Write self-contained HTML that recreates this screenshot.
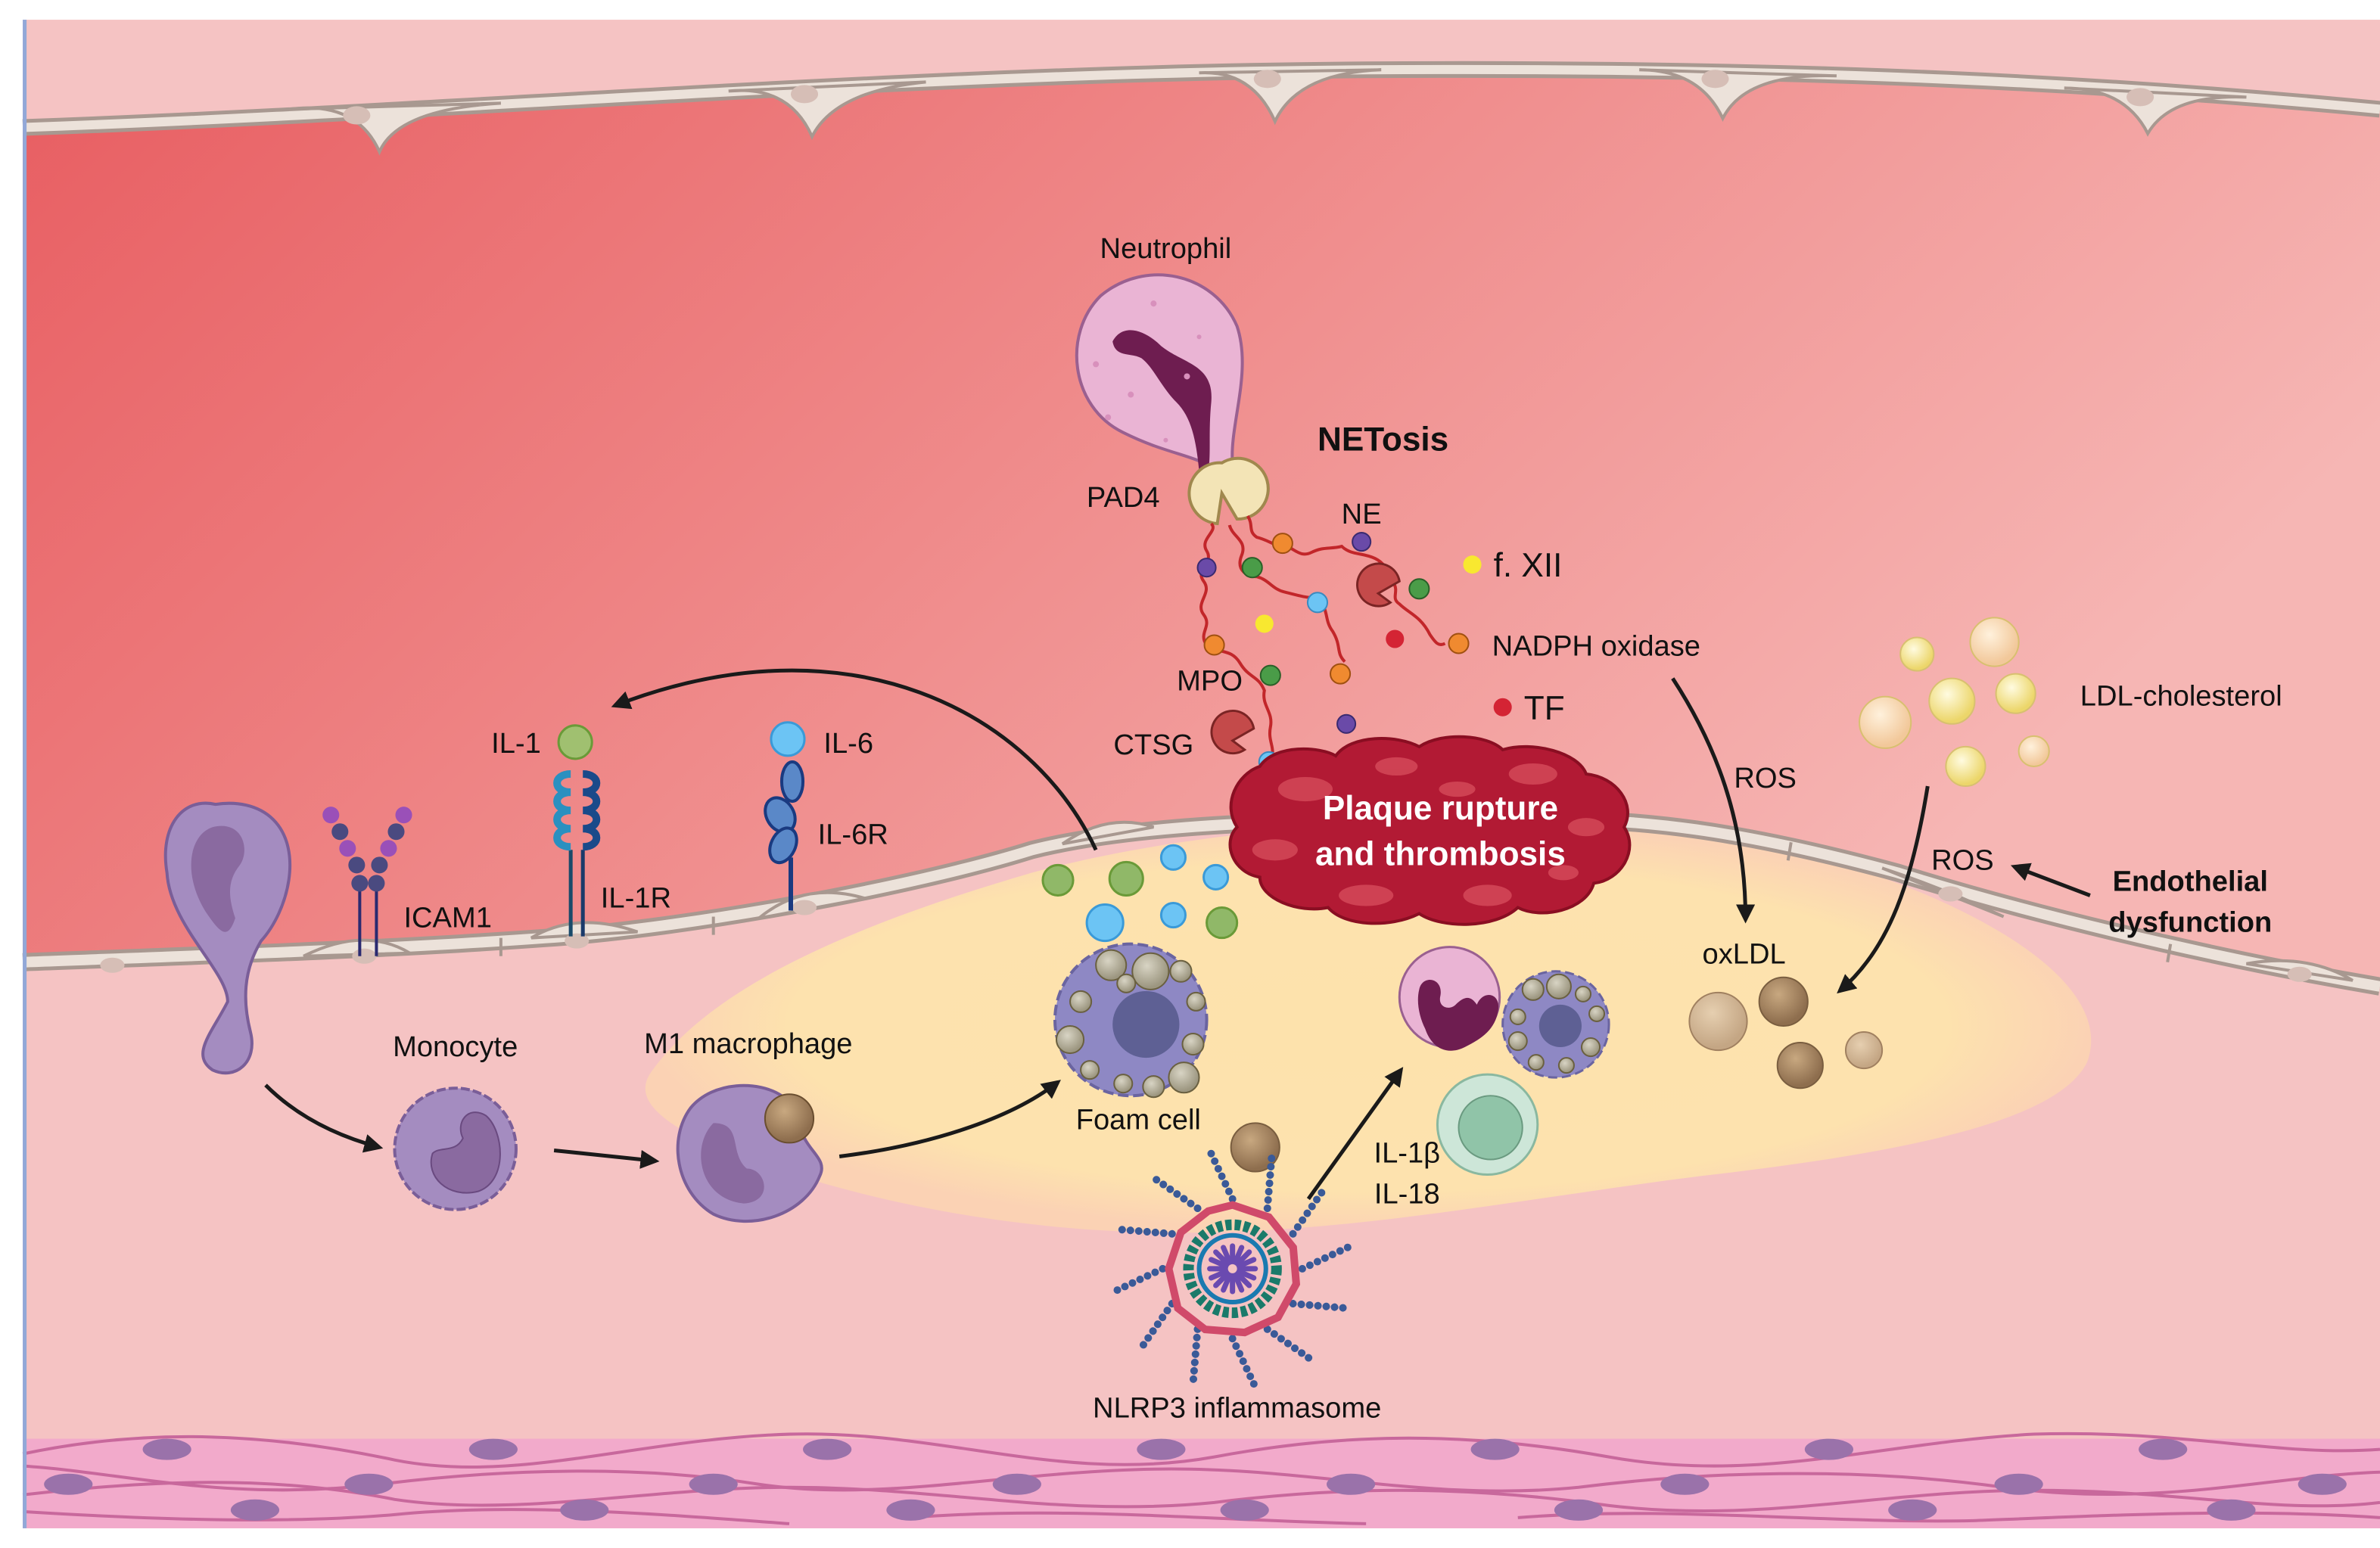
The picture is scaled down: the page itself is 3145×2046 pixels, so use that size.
<!DOCTYPE html>
<html><head><meta charset="utf-8"><style>
html,body{margin:0;padding:0;background:#fff}
svg{display:block}
text{font-family:"Liberation Sans",sans-serif;fill:#111}
</style></head><body>
<svg width="3145" height="2046" viewBox="0 0 1568 1020" preserveAspectRatio="none" xmlns="http://www.w3.org/2000/svg">
<defs>
<linearGradient id="lum" x1="0" y1="0" x2="1" y2="0.4">
<stop offset="0" stop-color="#e85e62"/><stop offset="0.5" stop-color="#ef8a8a"/><stop offset="1" stop-color="#f6b6b4"/>
</linearGradient>
<radialGradient id="plq" cx="0.5" cy="0.5" r="0.5">
<stop offset="0" stop-color="#fde2ac"/><stop offset="0.8" stop-color="#fde2ae"/><stop offset="1" stop-color="#fbd2b4"/>
</radialGradient>
<radialGradient id="ves" cx="0.4" cy="0.35" r="0.6"><stop offset="0" stop-color="#d8d4c4"/><stop offset="1" stop-color="#9c9680"/></radialGradient>
<radialGradient id="br" cx="0.4" cy="0.35" r="0.6"><stop offset="0" stop-color="#c8a880"/><stop offset="1" stop-color="#8e6e4e"/></radialGradient>
<radialGradient id="lbr" cx="0.4" cy="0.35" r="0.6"><stop offset="0" stop-color="#e6cfb0"/><stop offset="1" stop-color="#c4a684"/></radialGradient>
<radialGradient id="yl" cx="0.4" cy="0.35" r="0.6"><stop offset="0" stop-color="#fffbe0"/><stop offset="1" stop-color="#ecd66a"/></radialGradient>
<radialGradient id="pyl" cx="0.4" cy="0.35" r="0.6"><stop offset="0" stop-color="#fff1dc"/><stop offset="1" stop-color="#f2c89a"/></radialGradient>
<marker id="ah" viewBox="0 0 10 10" refX="8" refY="5" markerWidth="5" markerHeight="5" orient="auto"><path d="M0,0 L10,5 L0,10 Z" fill="#1a1a1a"/></marker>
</defs>

<rect x="15" y="13" width="1553" height="994" fill="#f5c3c3"/>
<path d="M15,84 C300,74 600,48 900,46 C1200,44 1400,56 1568,72 L1568,650 C1450,630 1330,600 1250,575 C1150,548 1080,538 1000,540 C880,540 760,540 680,560 C600,585 450,612 360,618 C250,626 120,630 15,634 Z" fill="url(#lum)"/>
<path d="M15,84 C300,74 600,48 900,46 C1200,44 1400,56 1568,72" fill="none" stroke="#a89890" stroke-width="11"/>
<path d="M15,84 C300,74 600,48 900,46 C1200,44 1400,56 1568,72" fill="none" stroke="#ece2da" stroke-width="6"/>
<g fill="#ece2da" stroke="#a89890" stroke-width="2">
<path d="M190,72 Q235,66 250,100 Q262,72 330,68 Z"/><path d="M480,60 Q520,56 535,90 Q550,60 610,54 Z"/><path d="M790,48 Q825,46 840,80 Q855,48 910,46 Z"/>
<path d="M1080,46 Q1120,46 1135,78 Q1150,48 1210,50 Z"/><path d="M1360,58 Q1400,58 1415,88 Q1430,62 1480,64 Z"/>
</g>
<g fill="#d6beb6"><ellipse cx="235" cy="76" rx="9" ry="6"/><ellipse cx="530" cy="62" rx="9" ry="6"/><ellipse cx="835" cy="52" rx="9" ry="6"/><ellipse cx="1130" cy="52" rx="9" ry="6"/><ellipse cx="1410" cy="64" rx="9" ry="6"/></g>

<path d="M430,705 C470,650 560,610 680,575 C780,548 900,540 1000,540 C1100,540 1200,560 1270,590 C1340,620 1390,660 1375,700 C1355,740 1250,760 1120,775 C1000,790 880,815 760,812 C640,810 520,780 450,745 C425,730 420,718 430,705 Z" fill="url(#plq)"/>

<path d="M15,634 C120,630 250,626 360,618 C450,612 600,585 680,560 C760,540 880,540 1000,540 C1080,538 1150,548 1250,575 C1330,600 1450,630 1568,650" fill="none" stroke="#a89890" stroke-width="12"/>
<path d="M15,634 C120,630 250,626 360,618 C450,612 600,585 680,560 C760,540 880,540 1000,540 C1080,538 1150,548 1250,575 C1330,600 1450,630 1568,650" fill="none" stroke="#ece2da" stroke-width="7"/>
<g fill="#ece2da" stroke="#a89890" stroke-width="2">
<path d="M200,630 Q240,610 270,628 Z"/><path d="M350,618 Q380,600 420,614 Z"/><path d="M500,605 Q530,580 570,592 Z"/><path d="M700,556 Q730,535 760,545 Z"/>
<path d="M1240,572 Q1280,585 1320,604 Z"/><path d="M1480,635 Q1520,628 1550,646 Z"/>
</g>
<g fill="#d6beb6"><ellipse cx="74" cy="636" rx="8" ry="5"/><ellipse cx="240" cy="630" rx="8" ry="5"/><ellipse cx="380" cy="620" rx="8" ry="5"/><ellipse cx="530" cy="598" rx="8" ry="5"/><ellipse cx="1285" cy="589" rx="8" ry="5"/><ellipse cx="1515" cy="642" rx="8" ry="5"/></g>
<g stroke="#a89890" stroke-width="2"><line x1="160" y1="628" x2="160" y2="640"/><line x1="330" y1="618" x2="330" y2="630"/><line x1="470" y1="604" x2="470" y2="616"/><line x1="1180" y1="555" x2="1178" y2="567"/><line x1="1430" y1="622" x2="1428" y2="634"/></g>

<rect x="15" y="948" width="1553" height="59" fill="#f2aacb"/>
<g fill="none" stroke="#c8689c" stroke-width="2">
<path d="M15,958 C100,940 180,945 260,962 C340,978 420,948 520,945 C620,942 700,978 800,960 C880,945 960,942 1060,960 C1160,978 1240,950 1340,945 C1440,942 1500,960 1568,955"/>
<path d="M15,966 C80,970 150,990 250,978 C330,968 420,965 500,978 C580,990 660,970 760,968 C860,966 940,990 1040,980 C1120,970 1220,966 1320,980 C1420,994 1500,972 1568,970"/>
<path d="M15,985 C100,975 180,972 260,988 C340,1000 430,980 520,980 C620,980 700,1000 800,990 C880,980 960,978 1060,992 C1160,1004 1240,982 1340,982 C1440,982 1500,998 1568,990"/>
<path d="M15,996 C80,1000 180,1005 260,998 C340,990 440,998 520,1004 M600,1000 C700,992 800,1002 900,1004 M1000,1000 C1100,992 1200,1004 1300,1002 C1400,998 1480,994 1568,1000"/>
</g>
<g fill="#9a72aa">
<ellipse cx="110" cy="955" rx="16" ry="7"/><ellipse cx="325" cy="955" rx="16" ry="7"/><ellipse cx="545" cy="955" rx="16" ry="7"/><ellipse cx="765" cy="955" rx="16" ry="7"/><ellipse cx="985" cy="955" rx="16" ry="7"/><ellipse cx="1205" cy="955" rx="16" ry="7"/><ellipse cx="1425" cy="955" rx="16" ry="7"/>
<ellipse cx="45" cy="978" rx="16" ry="7"/><ellipse cx="243" cy="978" rx="16" ry="7"/><ellipse cx="470" cy="978" rx="16" ry="7"/><ellipse cx="670" cy="978" rx="16" ry="7"/><ellipse cx="890" cy="978" rx="16" ry="7"/><ellipse cx="1110" cy="978" rx="16" ry="7"/><ellipse cx="1330" cy="978" rx="16" ry="7"/><ellipse cx="1530" cy="978" rx="16" ry="7"/>
<ellipse cx="168" cy="995" rx="16" ry="7"/><ellipse cx="385" cy="995" rx="16" ry="7"/><ellipse cx="600" cy="995" rx="16" ry="7"/><ellipse cx="820" cy="995" rx="16" ry="7"/><ellipse cx="1040" cy="995" rx="16" ry="7"/><ellipse cx="1260" cy="995" rx="16" ry="7"/><ellipse cx="1470" cy="995" rx="16" ry="7"/>
</g>
<rect x="15" y="13" width="2.5" height="994" fill="#92a8d8"/>

<path d="M800,310 C790,300 770,300 740,285 C705,268 700,220 725,195 C755,170 800,180 815,215 C825,245 810,280 812,305 Z" fill="#eab4d4" stroke="#9a6090" stroke-width="2"/>
<path d="M733,225 C740,212 755,218 765,228 C780,240 800,240 798,265 C796,285 798,300 796,310 L790,310 C788,290 785,275 775,265 C765,255 760,242 752,236 C745,232 735,236 733,225 Z" fill="#6e1d50"/>
<g fill="#d890bc"><circle cx="760" cy="200" r="2"/><circle cx="790" cy="222" r="1.5"/><circle cx="722" cy="240" r="2"/><circle cx="745" cy="260" r="2"/><circle cx="730" cy="275" r="2"/><circle cx="782" cy="248" r="2"/><circle cx="768" cy="290" r="1.5"/></g>
<path d="M805,325 m0,-20 a20,20 0 1 1 10,37 L805,325 L802,345 a20,20 0 0 1 3,-40 Z" fill="#f3e4b6" stroke="#a0884e" stroke-width="2"/>
<g fill="none" stroke="#c2262a" stroke-width="2">
<path d="M798,345 c5,5 -8,10 -3,18 c5,8 -8,12 -2,20 c6,8 -6,14 0,22 c6,8 -4,12 2,20 c8,6 16,2 22,12 c6,10 12,8 16,18 c-2,10 6,14 4,24 c-2,10 4,14 0,22"/>
<path d="M810,346 c2,8 12,10 8,20 c-4,10 4,14 10,14 c8,2 10,8 18,10 c8,2 14,4 22,4 c8,8 4,14 10,22 c6,10 2,14 8,20"/>
<path d="M822,340 c4,6 0,10 6,14 c8,2 12,6 18,6 c6,0 10,8 18,4 c8,-4 12,-2 20,-4 c6,6 14,4 22,8 c8,4 8,10 12,16 c4,6 -2,10 4,14 c6,6 14,8 20,20 c4,6 6,8 10,6"/>
</g>
<g stroke-width="1">
<circle cx="795" cy="374" r="6" fill="#6a4aa8" stroke="#3a2a70"/><circle cx="825" cy="374" r="6.5" fill="#4a9c48" stroke="#2a6028"/><circle cx="845" cy="358" r="6.5" fill="#f08a30" stroke="#a05010"/><circle cx="897" cy="357" r="6" fill="#6a4aa8" stroke="#3a2a70"/>
<circle cx="935" cy="388" r="6.5" fill="#4a9c48" stroke="#2a6028"/><circle cx="868" cy="397" r="6.5" fill="#6cc4f4" stroke="#3a8ac0"/><circle cx="833" cy="411" r="6" fill="#f8e830"/><circle cx="919" cy="421" r="6" fill="#d42434"/>
<circle cx="961" cy="424" r="6.5" fill="#f08a30" stroke="#a05010"/><circle cx="800" cy="425" r="6.5" fill="#f08a30" stroke="#a05010"/><circle cx="837" cy="445" r="6.5" fill="#4a9c48" stroke="#2a6028"/><circle cx="883" cy="444" r="6.5" fill="#f08a30" stroke="#a05010"/>
<circle cx="887" cy="477" r="6" fill="#6a4aa8" stroke="#3a2a70"/><circle cx="836" cy="502" r="6.5" fill="#6cc4f4" stroke="#3a8ac0"/><circle cx="970" cy="372" r="6" fill="#f8e830"/><circle cx="990" cy="466" r="6" fill="#d42434"/>
</g>
<path d="M908,377 m14,6 a14,14 0 1 0 -6,14 L908,391 Z" fill="#c44a4a" stroke="#7a2424" stroke-width="1.5"/>
<path d="M812,474 m14,6 a14,14 0 1 0 -6,14 L812,488 Z" fill="#c44a4a" stroke="#7a2424" stroke-width="1.5"/>

<path d="M830,505 C840,490 870,492 880,498 C890,484 920,484 935,492 C950,482 980,484 990,494 C1010,488 1040,496 1045,510 C1065,512 1078,530 1070,545 C1080,560 1068,580 1050,582 C1045,600 1015,606 1000,598 C985,612 950,612 935,602 C915,612 885,610 875,598 C855,602 830,592 830,578 C812,575 805,555 815,545 C805,530 815,510 830,505 Z" fill="#b21a34" stroke="#8a0e22" stroke-width="2"/>
<g fill="#d24656" opacity="0.9">
<ellipse cx="860" cy="520" rx="18" ry="8"/><ellipse cx="920" cy="505" rx="14" ry="6"/><ellipse cx="1010" cy="510" rx="16" ry="7"/><ellipse cx="1045" cy="545" rx="12" ry="6"/><ellipse cx="840" cy="560" rx="15" ry="7"/><ellipse cx="900" cy="590" rx="18" ry="7"/><ellipse cx="980" cy="590" rx="16" ry="7"/><ellipse cx="960" cy="520" rx="12" ry="5"/><ellipse cx="1030" cy="575" rx="10" ry="5"/>
</g>
<text x="949" y="540" text-anchor="middle" font-size="22" font-weight="bold" style="fill:#fff">Plaque rupture</text>
<text x="949" y="570" text-anchor="middle" font-size="22" font-weight="bold" style="fill:#fff">and thrombosis</text>

<g stroke-width="2">
<line x1="237" y1="582" x2="237" y2="630" stroke="#2a2a70"/><line x1="248" y1="582" x2="248" y2="630" stroke="#2a2a70"/>
<circle cx="237" cy="582" r="5.5" fill="#4a4a80"/><circle cx="248" cy="582" r="5.5" fill="#4a4a80"/><circle cx="235" cy="570" r="5.5" fill="#4a4a80"/><circle cx="250" cy="570" r="5.5" fill="#4a4a80"/>
<circle cx="229" cy="559" r="5.5" fill="#9a50b8" stroke="none"/><circle cx="256" cy="559" r="5.5" fill="#9a50b8" stroke="none"/><circle cx="224" cy="548" r="5.5" fill="#4a4a80"/><circle cx="261" cy="548" r="5.5" fill="#4a4a80"/>
<circle cx="218" cy="537" r="5.5" fill="#9a50b8" stroke="none"/><circle cx="266" cy="537" r="5.5" fill="#9a50b8" stroke="none"/>
<line x1="376" y1="560" x2="376" y2="617" stroke="#1a4a6a" stroke-width="2.5"/><line x1="384" y1="560" x2="384" y2="617" stroke="#1a3a6a" stroke-width="2.5"/>
</g>
<g fill="none" stroke-width="5">
<path d="M376,510 c-12,0 -12,12 0,12 c-12,0 -12,12 0,12 c-12,0 -12,12 0,12 c-12,0 -12,12 0,12" stroke="#2a90c0"/>
<path d="M384,510 c12,0 12,12 0,12 c12,0 12,12 0,12 c12,0 12,12 0,12 c12,0 12,12 0,12" stroke="#1a4a8a"/>
</g>
<circle cx="379" cy="489" r="11" fill="#a0c070" stroke="#6a9a38" stroke-width="1.5"/>
<circle cx="519" cy="487" r="11" fill="#6cc4f4" stroke="#3a9ad8" stroke-width="1.5"/>
<line x1="521" y1="565" x2="521" y2="600" stroke="#1a3a80" stroke-width="3"/>
<g fill="#5a88c8" stroke="#1a3a80" stroke-width="2"><ellipse cx="522" cy="515" rx="7" ry="13"/><ellipse cx="514" cy="537" rx="9" ry="12" transform="rotate(-30 514 537)"/><ellipse cx="516" cy="557" rx="8" ry="12" transform="rotate(25 516 557)"/></g>

<path d="M142,530 C120,525 105,545 110,575 C112,610 150,640 150,660 C140,680 125,695 140,705 C155,712 170,700 165,680 C160,660 160,640 172,620 C190,600 200,560 180,540 C170,530 155,528 142,530 Z" fill="#a48cc0" stroke="#7a5e98" stroke-width="2"/>
<path d="M140,545 C125,550 120,575 135,600 C145,615 150,620 155,605 C150,590 150,580 158,570 C165,560 160,540 140,545 Z" fill="#8a6aa0"/>
<circle cx="300" cy="757" r="40" fill="#a48cc0" stroke="#7a5e98" stroke-width="2" stroke-dasharray="6 2"/>
<path d="M285,760 C280,775 295,790 315,785 C335,778 332,745 320,735 C308,728 300,740 305,750 C300,760 290,755 285,760 Z" fill="#8a6aa0" stroke="#6a4a80" stroke-width="1"/>
<path d="M515,722 C500,712 470,712 455,730 C440,750 445,785 470,800 C495,812 530,800 540,775 C545,765 535,760 530,750 C515,752 505,740 510,728 Z" fill="#a48cc0" stroke="#7a5e98" stroke-width="2"/>
<path d="M470,740 C455,755 460,790 490,793 C510,792 505,770 492,770 C480,760 490,740 470,740 Z" fill="#8a6aa0"/>
<circle cx="520" cy="737" r="16" fill="url(#br)" stroke="#6a4e30" stroke-width="1"/>
<circle cx="745" cy="672" r="50" fill="#8e88c4" stroke="#6a64a0" stroke-width="2" stroke-dasharray="7 3"/>
<circle cx="755" cy="675" r="22" fill="#5e6094"/>
<g fill="url(#ves)" stroke="#6a6040" stroke-width="1">
<circle cx="732" cy="636" r="10"/><circle cx="758" cy="640" r="12"/><circle cx="778" cy="640" r="7"/><circle cx="788" cy="660" r="6"/><circle cx="712" cy="660" r="7"/><circle cx="705" cy="685" r="9"/><circle cx="786" cy="688" r="7"/><circle cx="780" cy="710" r="10"/><circle cx="760" cy="716" r="7"/><circle cx="740" cy="714" r="6"/><circle cx="718" cy="705" r="6"/><circle cx="742" cy="648" r="6"/>
</g>
<g stroke-width="1.5">
<circle cx="697" cy="580" r="10" fill="#90b868" stroke="#6a9a38"/><circle cx="742" cy="579" r="11" fill="#90b868" stroke="#6a9a38"/><circle cx="773" cy="565" r="8" fill="#6cc4f4" stroke="#3a9ad8"/><circle cx="801" cy="578" r="8" fill="#6cc4f4" stroke="#3a9ad8"/>
<circle cx="728" cy="608" r="12" fill="#6cc4f4" stroke="#3a9ad8"/><circle cx="773" cy="603" r="8" fill="#6cc4f4" stroke="#3a9ad8"/><circle cx="805" cy="608" r="10" fill="#90b868" stroke="#6a9a38"/>
</g>
<circle cx="955" cy="657" r="33" fill="#eab4d4" stroke="#9a6090" stroke-width="1.5"/>
<path d="M935,652 c2,-10 16,-8 14,4 c-2,8 6,10 10,6 c6,-6 10,-6 14,0 c4,-10 16,-8 14,4 c-2,12 -10,18 -22,24 c-12,6 -22,0 -26,-12 c-4,-8 -6,-18 -4,-26 Z" fill="#6e1d50"/>
<circle cx="1025" cy="675" r="35" fill="#8e88c4" stroke="#6a64a0" stroke-width="1.5" stroke-dasharray="6 3"/>
<circle cx="1028" cy="676" r="14" fill="#5e6094"/>
<g fill="url(#ves)" stroke="#6a6040" stroke-width="1"><circle cx="1010" cy="652" r="7"/><circle cx="1027" cy="650" r="8"/><circle cx="1043" cy="655" r="5"/><circle cx="1052" cy="668" r="5"/><circle cx="1000" cy="670" r="5"/><circle cx="1000" cy="686" r="6"/><circle cx="1048" cy="690" r="6"/><circle cx="1012" cy="700" r="5"/><circle cx="1032" cy="702" r="5"/></g>
<circle cx="980" cy="741" r="33" fill="#cde6d8" stroke="#8ab8a0" stroke-width="1.5"/>
<circle cx="982" cy="743" r="21" fill="#90c4a8" stroke="#6a9a80" stroke-width="1"/>
<circle cx="827" cy="756" r="16" fill="url(#br)" stroke="#7a5e40" stroke-width="1"/>
<circle cx="1132" cy="673" r="19" fill="url(#lbr)" stroke="#a08060" stroke-width="1"/>
<circle cx="1175" cy="660" r="16" fill="url(#br)" stroke="#7a5e40" stroke-width="1"/>
<circle cx="1186" cy="702" r="15" fill="url(#br)" stroke="#7a5e40" stroke-width="1"/>
<circle cx="1228" cy="692" r="12" fill="url(#lbr)" stroke="#a08060" stroke-width="1"/>
<g stroke="#d8c070" stroke-width="1">
<circle cx="1263" cy="431" r="11" fill="url(#yl)"/><circle cx="1314" cy="423" r="16" fill="url(#pyl)"/><circle cx="1286" cy="462" r="15" fill="url(#yl)"/><circle cx="1328" cy="457" r="13" fill="url(#yl)"/><circle cx="1242" cy="476" r="17" fill="url(#pyl)"/><circle cx="1295" cy="505" r="13" fill="url(#yl)"/><circle cx="1340" cy="495" r="10" fill="url(#pyl)"/>
</g>

<g transform="translate(812,836)">
<g stroke="#3a5a98" stroke-width="5" stroke-linecap="round" stroke-dasharray="0 5.5" fill="none">
<line x1="0" y1="-46" x2="-16" y2="-80" transform="rotate(0)"/><line x1="0" y1="-46" x2="-16" y2="-80" transform="rotate(30)"/><line x1="0" y1="-46" x2="-16" y2="-80" transform="rotate(60)"/><line x1="0" y1="-46" x2="-16" y2="-80" transform="rotate(90)"/><line x1="0" y1="-46" x2="-16" y2="-80" transform="rotate(120)"/><line x1="0" y1="-46" x2="-16" y2="-80" transform="rotate(150)"/><line x1="0" y1="-46" x2="-16" y2="-80" transform="rotate(180)"/><line x1="0" y1="-46" x2="-16" y2="-80" transform="rotate(210)"/><line x1="0" y1="-46" x2="-16" y2="-80" transform="rotate(240)"/><line x1="0" y1="-46" x2="-16" y2="-80" transform="rotate(270)"/><line x1="0" y1="-46" x2="-16" y2="-80" transform="rotate(300)"/><line x1="0" y1="-46" x2="-16" y2="-80" transform="rotate(330)"/>
</g>
<polygon points="0,-42 24,-34 40,-14 42,10 30,32 8,42 -18,40 -36,26 -42,0 -34,-24 -16,-38" fill="none" stroke="#d04a6a" stroke-width="5"/>
<circle r="29" fill="none" stroke="#1a7a6a" stroke-width="7" stroke-dasharray="4 2"/>
<circle r="22" fill="#f5c3c3" stroke="#1a7ab0" stroke-width="3"/>
<g stroke="#6a4ab0" stroke-width="3.5" stroke-linecap="round"><line x1="0" y1="-15" x2="0" y2="15"/><line x1="-15" y1="0" x2="15" y2="0"/><line x1="-11" y1="-11" x2="11" y2="11"/><line x1="-11" y1="11" x2="11" y2="-11"/><line x1="-6" y1="-14" x2="6" y2="14"/><line x1="-14" y1="-6" x2="14" y2="6"/><line x1="-14" y1="6" x2="14" y2="-6"/><line x1="-6" y1="14" x2="6" y2="-14"/></g>
<circle r="3" fill="#f5c3c3"/>
</g>

<g fill="none" stroke="#1a1a1a" stroke-width="2.5" marker-end="url(#ah)">
<path d="M722,560 C680,470 560,405 405,465"/>
<path d="M175,715 C195,735 220,748 250,756"/>
<path d="M365,758 L432,765"/>
<path d="M553,762 C610,755 665,738 697,713"/>
<path d="M862,790 L923,705"/>
<path d="M1102,447 C1130,490 1150,540 1150,606"/>
<path d="M1270,518 C1260,580 1245,625 1212,653"/>
<path d="M1377,590 L1327,571"/>
</g>

<g font-size="19">
<text x="768" y="170" text-anchor="middle">Neutrophil</text>
<text x="868" y="297" font-weight="bold" font-size="22">NETosis</text>
<text x="740" y="334" text-anchor="middle">PAD4</text>
<text x="897" y="345" text-anchor="middle">NE</text>
<text x="984" y="380" font-size="22">f. XII</text>
<text x="983" y="432">NADPH oxidase</text>
<text x="797" y="455" text-anchor="middle">MPO</text>
<text x="760" y="497" text-anchor="middle">CTSG</text>
<text x="1004" y="474" font-size="22">TF</text>
<text x="1163" y="519" text-anchor="middle">ROS</text>
<text x="1437" y="465" text-anchor="middle">LDL-cholesterol</text>
<text x="1293" y="573" text-anchor="middle">ROS</text>
<text x="1443" y="587" text-anchor="middle" font-weight="bold">Endothelial</text>
<text x="1443" y="614" text-anchor="middle" font-weight="bold">dysfunction</text>
<text x="1149" y="635" text-anchor="middle">oxLDL</text>
<text x="340" y="496" text-anchor="middle">IL-1</text>
<text x="559" y="496" text-anchor="middle">IL-6</text>
<text x="419" y="598" text-anchor="middle">IL-1R</text>
<text x="562" y="556" text-anchor="middle">IL-6R</text>
<text x="295" y="611" text-anchor="middle">ICAM1</text>
<text x="300" y="696" text-anchor="middle">Monocyte</text>
<text x="493" y="694" text-anchor="middle">M1 macrophage</text>
<text x="750" y="744" text-anchor="middle">Foam cell</text>
<text x="927" y="766" text-anchor="middle">IL-1β</text>
<text x="927" y="793" text-anchor="middle">IL-18</text>
<text x="815" y="934" text-anchor="middle">NLRP3 inflammasome</text>
</g>
</svg>
</body></html>
